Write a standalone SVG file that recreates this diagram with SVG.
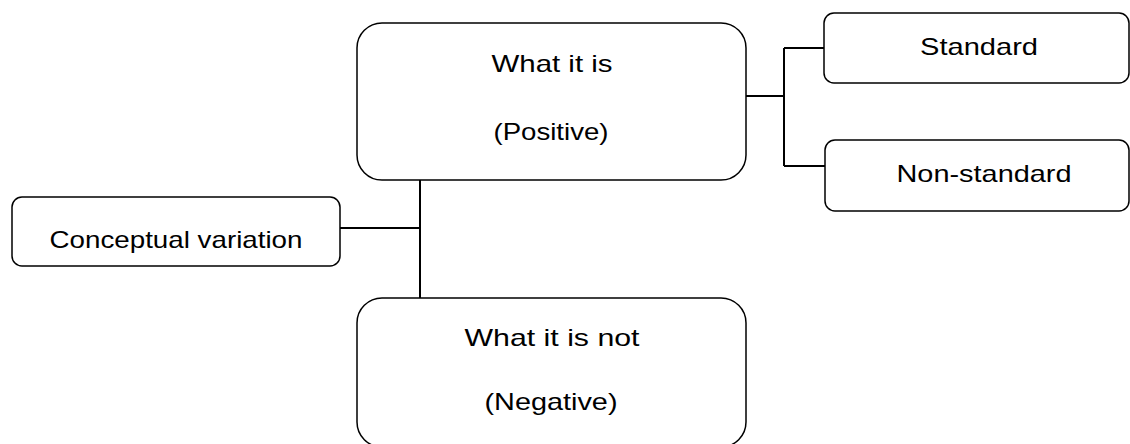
<svg xmlns="http://www.w3.org/2000/svg" width="1130" height="444" viewBox="0 0 1130 444">
<style>
.box{fill:#fff;stroke:#000;stroke-width:1.5}
.t{font-family:"Comic Sans MS","Liberation Sans",sans-serif;font-size:24px;fill:#000;text-anchor:middle}
.c{stroke:#000;stroke-width:2;fill:none}
</style>
<rect width="1130" height="444" fill="#fff"/>
<g id="connectors">
<path class="c" d="M340 228 H420 M420 180 V298"/>
<path class="c" d="M746 96 H784 M784 48 V166 M784 48 H824 M784 166 H825"/>
</g>
<g id="node-conceptual">
<rect class="box" x="12" y="197" width="328" height="69" rx="10"/>
<text class="t" x="176" y="248" textLength="253" lengthAdjust="spacingAndGlyphs">Conceptual variation</text>
</g>
<g id="node-positive">
<rect class="box" x="357" y="23" width="389" height="157" rx="25"/>
<text class="t" x="552" y="72" textLength="121" lengthAdjust="spacingAndGlyphs">What it is</text>
<text class="t" x="551" y="140" textLength="115" lengthAdjust="spacingAndGlyphs">(Positive)</text>
</g>
<g id="node-standard">
<rect class="box" x="824" y="13" width="305" height="70" rx="10"/>
<text class="t" x="979" y="55" textLength="118" lengthAdjust="spacingAndGlyphs">Standard</text>
</g>
<g id="node-nonstandard">
<rect class="box" x="825" y="140" width="304" height="71" rx="10"/>
<text class="t" x="984" y="182" textLength="175" lengthAdjust="spacingAndGlyphs">Non-standard</text>
</g>
<g id="node-negative">
<rect class="box" x="357" y="298" width="389" height="149" rx="25"/>
<text class="t" x="552" y="346" textLength="175" lengthAdjust="spacingAndGlyphs">What it is not</text>
<text class="t" x="551" y="410" textLength="133" lengthAdjust="spacingAndGlyphs">(Negative)</text>
</g>
</svg>
